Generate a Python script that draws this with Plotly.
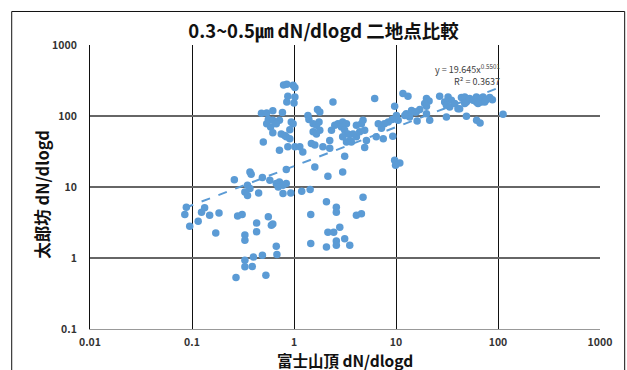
import plotly.graph_objects as go

# Data (富士山頂 x, 太郎坊 y)
fuji = [0.79, 0.85, 0.98, 1.02, 0.87, 1.02, 0.85, 1.0, 2.41, 0.48,
        0.54, 0.62, 0.77, 0.56, 0.62, 0.72, 0.54, 0.59, 0.67, 0.94,
        0.98, 0.91, 0.62, 0.75, 0.81, 0.84, 0.91, 0.50, 0.72, 0.87,
        1.02, 1.14, 1.22, 1.40, 1.37, 1.70, 1.79, 1.54, 1.66, 1.76,
        1.54, 1.66, 1.79, 1.48, 1.60, 1.92, 2.24, 2.33, 2.51, 2.70,
        2.24, 0.84, 1.60, 2.15, 0.37, 0.38, 0.26, 0.49, 0.58, 0.67,
        0.72, 0.78, 0.84, 0.70, 0.35, 0.37, 0.33, 0.35, 0.45, 0.78,
        0.93, 1.19, 1.44, 2.08, 2.60, 2.60, 0.088, 0.085, 0.095, 0.115,
        0.124, 0.133, 0.149, 0.184, 0.171, 0.28, 0.31, 0.56, 0.43, 0.60,
        0.62, 0.43, 0.33, 0.33, 1.46, 2.15, 2.45, 2.60, 2.60, 1.46,
        2.08, 0.67, 0.68, 0.49, 0.40, 0.33, 0.33, 0.39, 0.27, 0.53,
        6.18, 9.7, 11.7, 13.1, 19.9, 21.1, 19.1, 19.9, 26.8, 32.4,
        34.9, 30.0, 31.2, 33.6, 37.6, 40.5, 43.8, 47.2, 49.0, 52.7,
        56.9, 61.4, 66.2, 71.3, 76.9, 83.0, 88.1, 61.4, 68.7, 74.1,
        63.7, 112, 47.2, 42.1, 49.0, 61.7, 66.7, 31.2, 21.4, 19.9,
        17.1, 15.8, 16.1, 12.6, 13.6, 12.2, 14.2, 15.3, 10.5, 10.1,
        9.2, 8.4, 7.7, 7.2, 6.7, 6.4, 7.5, 9.3, 9.7, 10.9,
        9.9, 3.0, 3.27, 2.92, 3.14, 3.38, 3.52, 3.27, 3.65, 4.09,
        3.79, 4.41, 4.58, 4.75, 4.93, 5.13, 4.93, 4.09, 3.0, 3.14,
        3.0, 4.75, 4.09, 4.58, 2.81, 3.14, 3.52]

taroubou = [273, 279, 270, 251, 189, 185, 157, 152, 157, 109,
            110, 119, 112, 89, 87, 87, 78, 70, 78, 82,
            78, 64, 58, 56, 53, 51, 48, 43, 33, 37,
            37, 37, 31, 89, 102, 123, 114, 78, 74, 82,
            60, 56, 63, 41, 39, 37, 45, 63, 74, 78,
            35, 17.6, 19.1, 14.2, 16.3, 15.1, 12.7, 13.6, 12.4, 11.2,
            11.8, 10.6, 11.2, 10.0, 10.6, 9.5, 8.5, 7.6, 8.2, 8.1,
            8.2, 8.7, 9.2, 6.2, 5.2, 4.4, 5.2, 4.1, 2.8, 3.3,
            4.4, 5.1, 4.0, 4.3, 2.25, 3.9, 4.1, 3.8, 3.1, 2.9,
            3.0, 2.35, 2.1, 1.78, 4.1, 2.3, 2.3, 1.73, 1.51, 1.6,
            1.43, 1.46, 1.12, 1.09, 1.03, 0.93, 0.75, 0.76, 0.53, 0.57,
            176, 137, 207, 189, 176, 163, 150, 137, 189, 185,
            166, 157, 142, 134, 150, 127, 182, 185, 157, 176,
            166, 185, 176, 185, 170, 182, 170, 157, 157, 157,
            150, 106, 150, 127, 99, 87, 80, 97, 87, 108,
            123, 114, 85, 108, 97, 102, 120, 114, 87, 102,
            89, 82, 78, 67, 78, 51, 48, 52, 23.8, 21.8,
            20.2, 82, 78, 70, 63, 56, 45, 43, 43, 51,
            56, 60, 78, 87, 63, 45, 35.9, 74, 51, 27,
            16.3, 7.2, 4.0, 4.2, 2.7, 1.87, 1.51]

# Power trendline coefficients shown on the chart
coef_a = 19.645
coef_b = 0.5501
r_squared = 0.3637

x_ticks = [0.01, 0.1, 1, 10, 100, 1000]
x_tick_labels = ["0.01", "0.1", "1", "10", "100", "1000"]
y_ticks = [0.1, 1, 10, 100, 1000]
y_tick_labels = ["0.1", "1", "10", "100", "1000"]

title_text = "0.3~0.5㎛ dN/dlogd 二地点比較"
x_title = "富士山頂 dN/dlogd"
y_title = "太郎坊 dN/dlogd"

BLUE = "#5B9BD5"
FONT = "Noto Sans CJK JP"

trend_x = [min(fuji), max(fuji)]
trend_y = [coef_a * v ** coef_b for v in trend_x]

fig = go.Figure()
fig.add_trace(go.Scatter(
    x=fuji, y=taroubou, mode="markers",
    marker=dict(color=BLUE, size=7.5, line=dict(width=0)),
    showlegend=False, hoverinfo="skip"))
fig.add_trace(go.Scatter(
    x=trend_x, y=trend_y, mode="lines",
    line=dict(color=BLUE, width=2, dash="dash"),
    showlegend=False, hoverinfo="skip"))

fig.update_layout(
    width=627, height=370,
    margin=dict(l=90, r=27, t=45, b=41),
    paper_bgcolor="white", plot_bgcolor="white",
    font=dict(family=FONT, color="#222"),
    title=dict(text="<b>" + title_text + "</b>", x=0.516, xref="container",
               y=0.915, yanchor="middle", xanchor="center",
               font=dict(size=18.5, family=FONT, color="#111")),
    xaxis=dict(type="log", range=[-2, 3], tickvals=x_ticks,
               ticktext=["<b>" + t + "</b>" for t in x_tick_labels],
               showgrid=True, gridcolor="#111", gridwidth=1,
               showline=True, linecolor="#999", linewidth=1,
               ticks="", ticklabelstandoff=3,
               tickfont=dict(size=10.5, family=FONT, color="#333"),
               zeroline=False),
    yaxis=dict(type="log", range=[-1, 3], tickvals=y_ticks,
               ticktext=["<b>" + t + "</b>" for t in y_tick_labels],
               showgrid=True, gridcolor="#666", gridwidth=1.5,
               showline=True, linecolor="#111", linewidth=1,
               ticks="", ticklabelstandoff=10,
               tickfont=dict(size=10.5, family=FONT, color="#333"),
               zeroline=False),
    annotations=[
        dict(text="y = 19.645x<sup>0.5501</sup>", xref="paper", yref="paper",
             x=0.741, y=0.914, showarrow=False, xanchor="center", yanchor="middle",
             font=dict(size=9, family=FONT, color="#404040")),
        dict(text="R² = " + str(r_squared), xref="paper", yref="paper",
             x=0.758, y=0.872, showarrow=False, xanchor="center", yanchor="middle",
             font=dict(size=9, family=FONT, color="#404040")),
        dict(text="<b>" + y_title + "</b>", xref="paper", yref="paper",
             x=-0.093, y=0.475, textangle=-90, showarrow=False,
             xanchor="center", yanchor="middle",
             font=dict(size=16.5, family=FONT, color="#111")),
        dict(text="<b>" + x_title + "</b>", xref="paper", yref="paper",
             x=0.5, y=-0.11, showarrow=False, xanchor="center", yanchor="middle",
             font=dict(size=15.5, family=FONT, color="#111")),
    ],
    shapes=[dict(type="rect", xref="paper", yref="paper",
                 x0=-0.1535, x1=1.0484, y0=-0.3, y1=1.118,
                 line=dict(color="#111", width=1), layer="below")],
)

fig.write_html("out.html")
